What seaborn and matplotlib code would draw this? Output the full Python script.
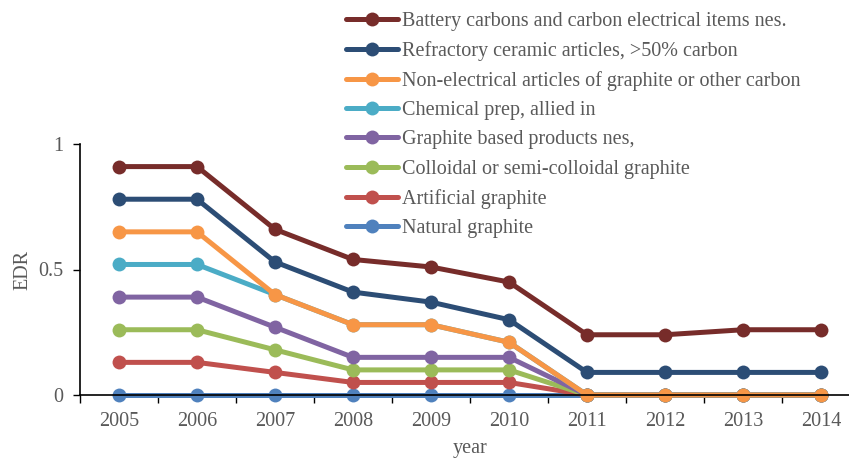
import matplotlib
matplotlib.use("Agg")
import matplotlib.pyplot as plt
import seaborn as sns
import pandas as pd
import numpy as np

years = [2005, 2006, 2007, 2008, 2009, 2010, 2011, 2012, 2013, 2014]

battery = [0.91, 0.91, 0.66, 0.54, 0.51, 0.45, 0.24, 0.24, 0.26, 0.26]
refractory = [0.78, 0.78, 0.53, 0.41, 0.37, 0.30, 0.09, 0.09, 0.09, 0.09]
non_electrical = [0.65, 0.65, 0.40, 0.28, 0.28, 0.21, 0.0, 0.0, 0.0, 0.0]
chemical = [0.52, 0.52, 0.40, 0.28, 0.28, 0.21, 0.0, 0.0, 0.0, 0.0]
graphite_based = [0.39, 0.39, 0.27, 0.15, 0.15, 0.15, 0.0, 0.0, 0.0, 0.0]
colloidal = [0.26, 0.26, 0.18, 0.10, 0.10, 0.10, 0.0, 0.0, 0.0, 0.0]
artificial = [0.13, 0.13, 0.09, 0.05, 0.05, 0.05, 0.0, 0.0, 0.0, 0.0]
natural = [0.0, 0.0, 0.0, 0.0, 0.0, 0.0, 0.0, 0.0, 0.0, 0.0]

# drawing order (bottom to top); the legend lists them in reverse
series = [
    ("Natural graphite", natural, "#4F81BD"),
    ("Artificial graphite", artificial, "#C0504D"),
    ("Colloidal or semi-colloidal graphite", colloidal, "#9BBB59"),
    ("Graphite based products nes,", graphite_based, "#8064A2"),
    ("Chemical prep, allied in", chemical, "#4BACC6"),
    ("Non-electrical articles of graphite or other carbon", non_electrical, "#F79646"),
    ("Refractory ceramic articles, >50% carbon", refractory, "#2C4D75"),
    ("Battery carbons and carbon electrical items nes.", battery, "#772C2A"),
]

rows = []
for name, vals, _ in series:
    for i, (yr, v) in enumerate(zip(years, vals)):
        rows.append({"pos": i, "year": yr, "EDR": v, "product": name})
df = pd.DataFrame(rows)

sns.set_theme(style="white")
plt.rcParams["font.family"] = ["Liberation Serif", "DejaVu Serif"]
text_color = "#595959"
fs = 14.5

fig = plt.figure(figsize=(8.49, 4.59), dpi=100)
ax = fig.add_axes([80 / 849, 64 / 459, 780 / 849, 251 / 459])

order = [s[0] for s in series]
palette = {s[0]: s[2] for s in series}
sns.lineplot(data=df, x="pos", y="EDR", hue="product", hue_order=order,
             palette=palette, marker="o", markersize=10, markeredgewidth=0,
             linewidth=3.6, ax=ax, clip_on=False, legend=True)

ax.set_xlim(-0.5, 9.5)
ax.set_ylim(0, 1)
ax.set_yticks([0, 0.5, 1])
ax.set_yticklabels(["0", "0.5", "1"])
ax.set_xticks(range(len(years)))
ax.set_xticklabels([str(y) for y in years])
ax.set_xticks(np.arange(-0.5, 9.6, 1.0), minor=True)
ax.tick_params(axis="x", which="major", length=0, pad=12, labelsize=fs, labelcolor=text_color)
ax.tick_params(axis="x", which="minor", length=6, width=1, color="black", bottom=True)
ax.tick_params(axis="y", which="major", length=5, width=1, color="black", left=True,
               pad=7, labelsize=fs, labelcolor=text_color)

for side in ["top", "right"]:
    ax.spines[side].set_visible(False)
for side in ["left", "bottom"]:
    ax.spines[side].set_color("black")
    ax.spines[side].set_linewidth(1.2)

ax.set_xlabel("year", fontsize=fs, color=text_color, labelpad=6)
ax.set_ylabel("EDR", fontsize=fs, color=text_color, labelpad=4)

handles, labels = ax.get_legend_handles_labels()
ax.get_legend().remove()
leg = fig.legend(handles[::-1], labels[::-1], loc="upper left",
                 bbox_to_anchor=(336 / 849, 1.0 - 2 / 459), frameon=False, fontsize=fs,
                 handlelength=2.6, handletextpad=0.2, labelspacing=0.5,
                 borderaxespad=0.1)
for t in leg.get_texts():
    t.set_color(text_color)

fig.savefig("out.png", dpi=100)
